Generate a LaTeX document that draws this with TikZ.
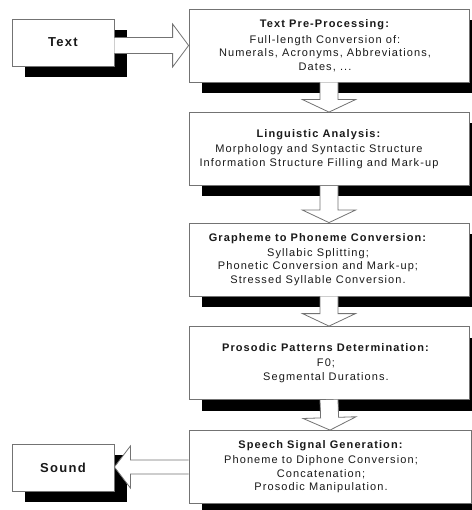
\documentclass[tikz,border=0pt]{standalone}
\usepackage{fontspec}
\setmainfont{Liberation Sans}[LetterSpace=10]
\usetikzlibrary{calc, shadows}
\colorlet{myframe}{black!55}
\colorlet{myink}{black!90}

\begin{document}
\begin{tikzpicture}[x=1pt, y=-1pt, line join=miter,
                box/.style={draw=myframe, line width=0.8pt, fill=white, inner sep=0pt,
                    drop shadow={shadow xshift=13pt, shadow yshift=-11pt, fill=black, opacity=1}},
                stage/.style={box, minimum width=280pt, minimum height=73pt},
                port/.style={box, minimum width=102pt, minimum height=47pt,
                    text=myink, font=\fontsize{13}{15}\selectfont\bfseries},
                stagetext/.style={align=center, text=myink, font=\fontsize{11}{13.5}\selectfont},
                hollow/.style={draw=myframe, line width=0.8pt, fill=white}]
                \useasboundingbox (0,0) rectangle (471,510);

                \def\hollowarrow#1#2#3#4#5{ % wide open arrow from #1 to #2 (half shaft, half head, head length)
                    \path ($(#2)!#5!(#1)$) coordinate (h);
                    \draw[hollow] ($(#1)!#3!90:(#2)$) -- ($(h)!#3!90:(#2)$) -- ($(h)!#4!90:(#2)$)
                        -- (#2) -- ($(h)!#4!-90:(#2)$) -- ($(h)!#3!-90:(#2)$) -- ($(#1)!#3!-90:(#2)$);
                }

                % input and output
                \node[port] (text)  at (63,42.5)  {Text};
                \node[port] (sound) at (63,467.5) {Sound};

                % processing stages
                \node[stage] (tpp) at (329,45.5)  {};
                \node[stage] (la)  at (329,149)   {};
                \node[stage] (gp)  at (329,259.5) {};
                \node[stage] (ppd) at (329,363)   {};
                \node[stage, minimum width=282pt] (ssg) at (330,467) {};

                % stage texts
                \node[stagetext, xshift=-4pt] (tppText) at (tpp) {\textbf{Text Pre-Processing:}\\[2pt]
                    Full-length Conversion of:\\ Numerals, Acronyms, Abbreviations,\\ Dates, ...};
                \node[stagetext, xshift=-10pt] (laText) at (la) {\textbf{Linguistic Analysis:}\\[1.5pt]
                    Morphology and Syntactic Structure\\ Information Structure Filling and Mark-up};
                \node[stagetext, xshift=-11pt] (gpText) at (gp) {\textbf{Grapheme to Phoneme Conversion:}\\[1.5pt]
                    Syllabic Splitting;\\ Phonetic Conversion and Mark-up;\\ Stressed Syllable Conversion.};
                \node[stagetext, xshift=-3pt] (ppdText) at (ppd) {\textbf{Prosodic Patterns Determination:}\\[1.5pt]
                    F0;\\ Segmental Durations.};
                \node[stagetext, xshift=-9pt] (ssgText) at (ssg) {\textbf{Speech Signal Generation:}\\[1.5pt]
                    Phoneme to Diphone Conversion;\\ Concatenation;\\ Prosodic Manipulation.};

                % arrows
                \hollowarrow{text.east |- tpp.west}{tpp.west}{8pt}{21.5pt}{16pt}
                \foreach \a/\b in {tpp/la, la/gp, gp/ppd, ppd/ssg}{
                    \hollowarrow{\a.south}{\b.north}{9pt}{26.5pt}{12.5pt}
                }
                \hollowarrow{ssg.west}{sound.east |- ssg.west}{7pt}{21pt}{16pt}

            \end{tikzpicture}
\end{document}
